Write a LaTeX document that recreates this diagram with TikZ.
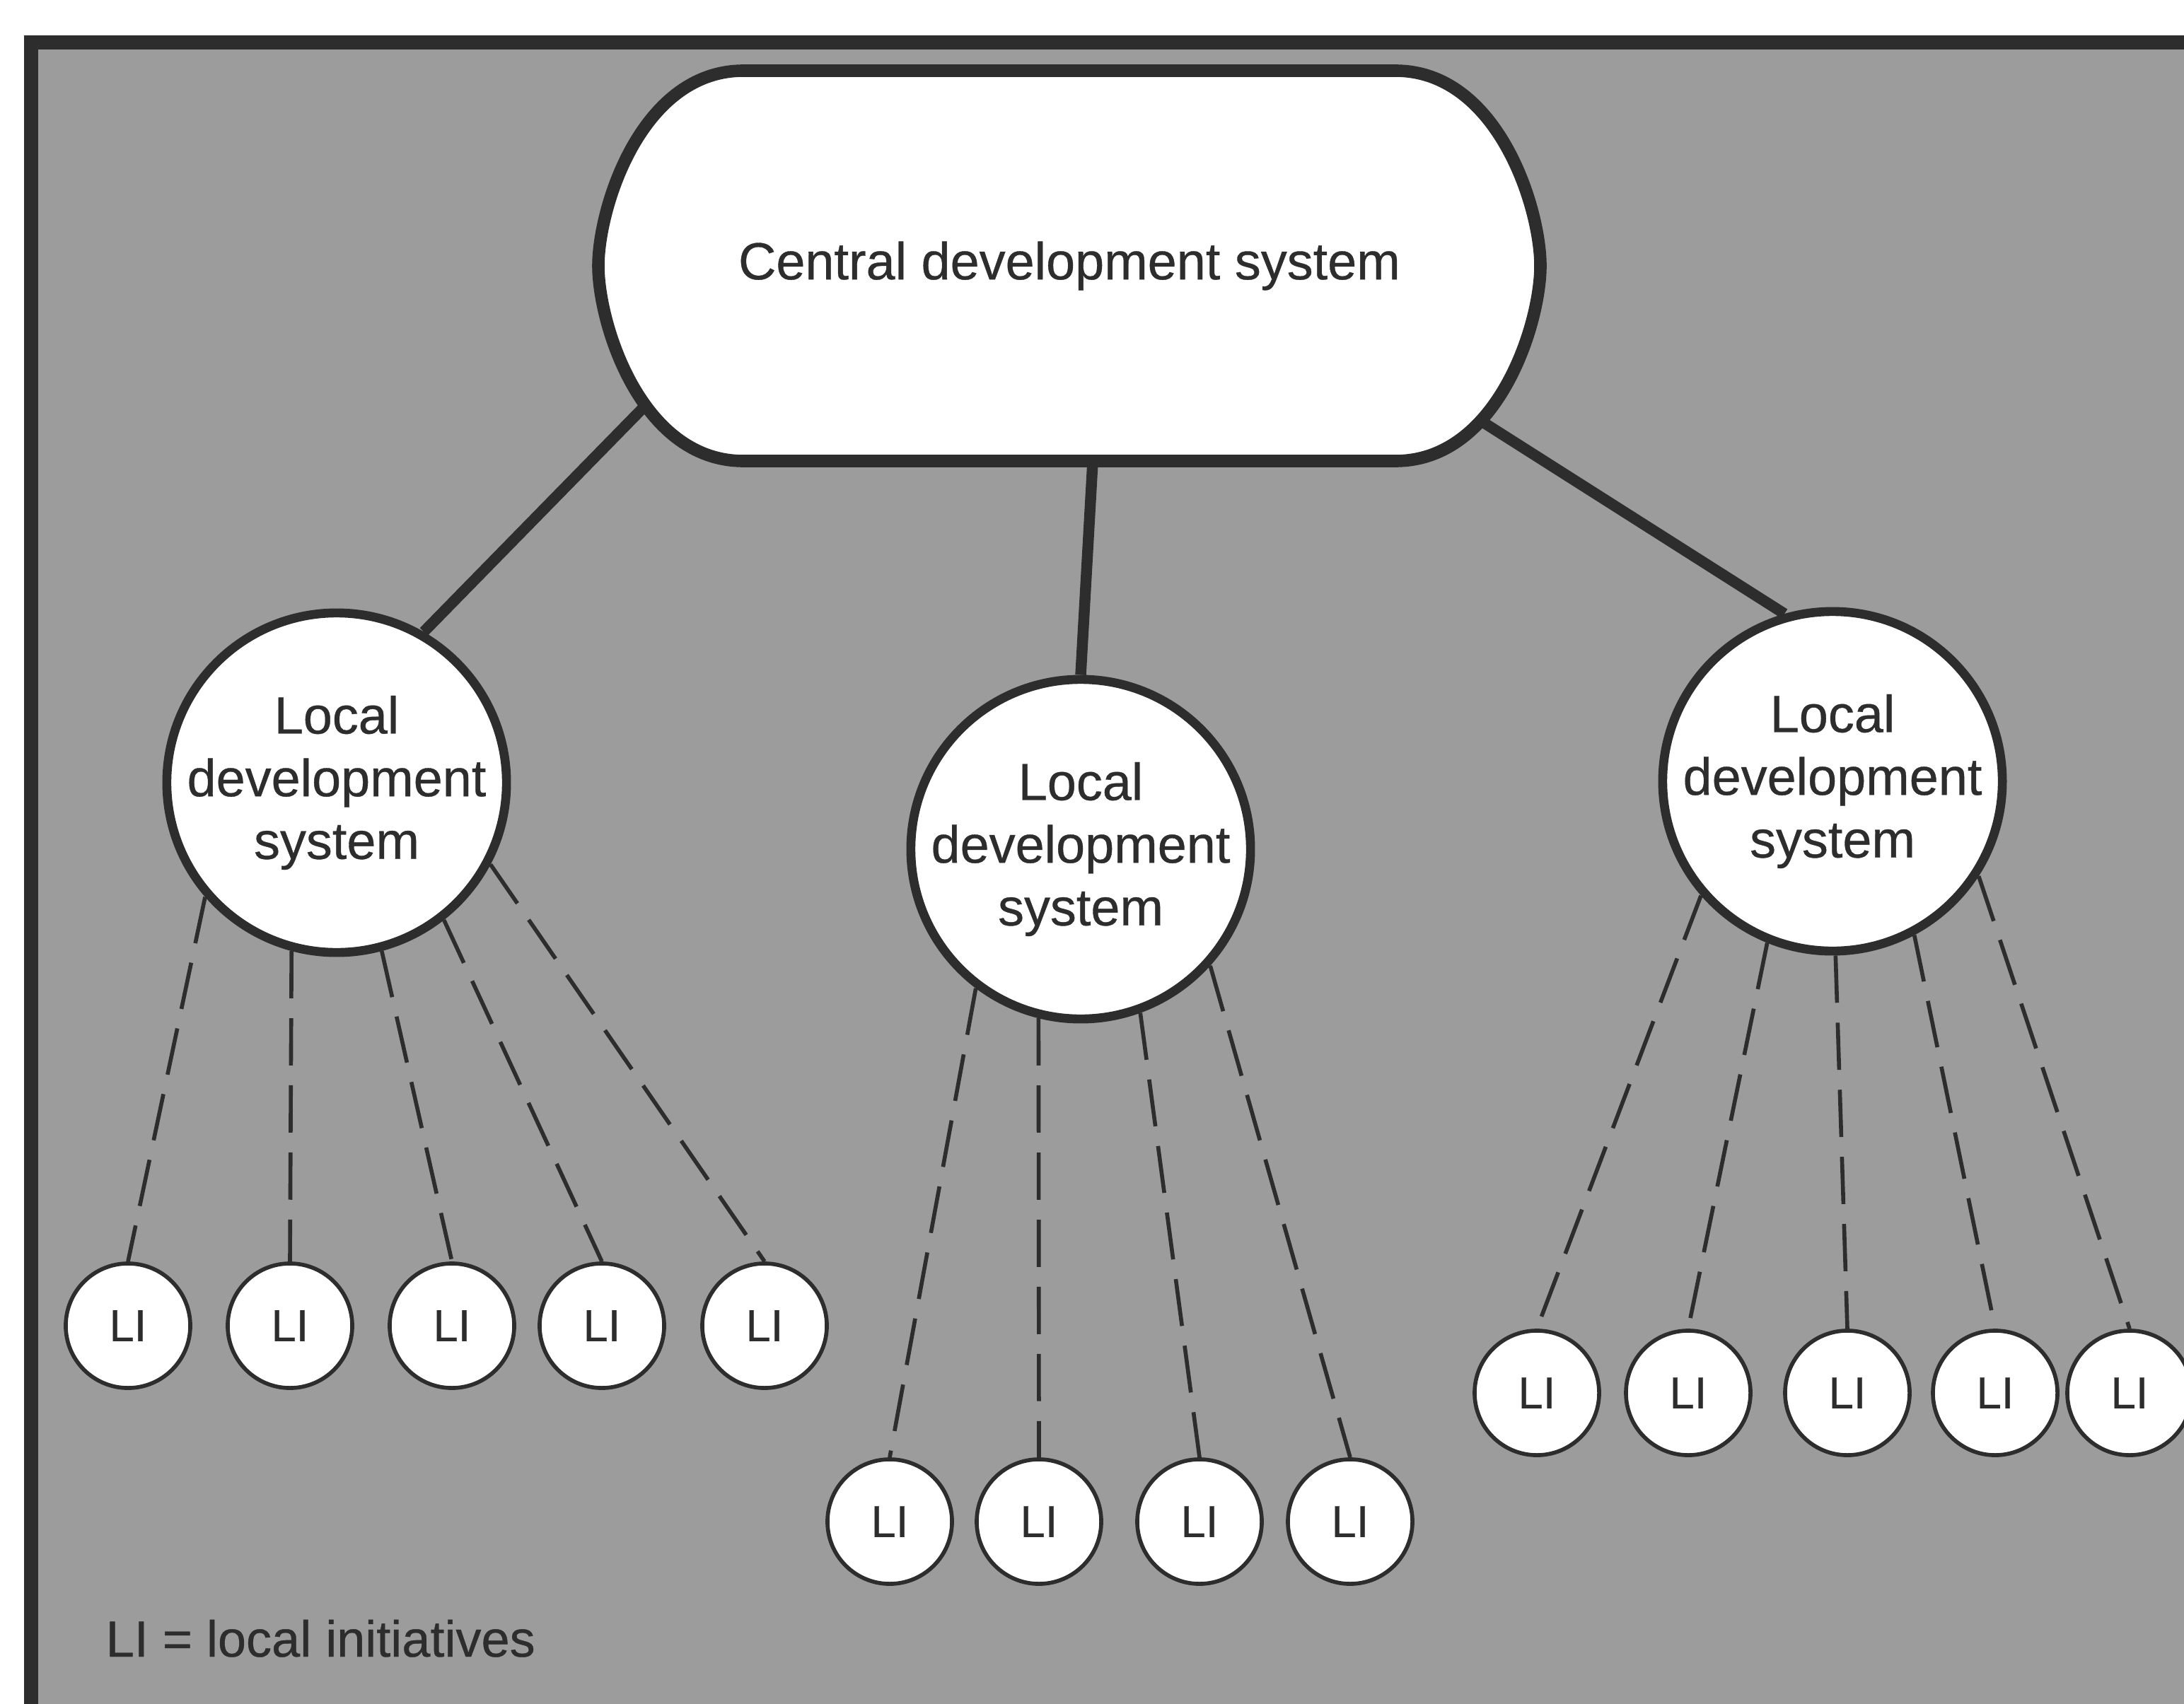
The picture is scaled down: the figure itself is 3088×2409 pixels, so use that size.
\documentclass[tikz,border=0pt]{standalone}
\usepackage{fontspec}
\setmainfont{Liberation Sans}[FakeBold=0.5]
\pgfdeclarelayer{bg}
\pgfdeclarelayer{edges}
\pgfsetlayers{bg,edges,main}
\definecolor{panel}{RGB}{156,156,156}
\definecolor{ink}{RGB}{45,45,45}
\begin{document}
\begin{tikzpicture}[x=0.01cm, y=-0.01cm,
  hubtext/.style={font=\fontsize{21}{25}\selectfont, text=ink, inner sep=0pt},
  localsys/.style={circle, draw=ink, line width=3.6pt, fill=white, minimum size=4.8cm, inner sep=0pt},
  localtext/.style={align=center, font=\fontsize{21}{25.2}\selectfont, text=ink, inner sep=0pt},
  initiative/.style={circle, draw=ink, line width=1.6pt, fill=white, minimum size=1.76cm, inner sep=0pt, font=\fontsize{18}{20}\selectfont, text=ink},
  trunk/.style={draw=ink, line width=4.4pt},
  branch/.style={draw=ink, line width=1.6pt, dash pattern=on 19pt off 8pt},
  legendtext/.style={font=\fontsize{20.5}{24}\selectfont, text=ink, inner sep=0pt}]

\useasboundingbox (0,0) rectangle (3088,2409);

% grey panel with its frame (open to the right and bottom)
\begin{pgfonlayer}{bg}
  \begin{scope}
    \clip (0,0) rectangle (3088,2409);
    \fill[white] (0,0) rectangle (3088,2409);
    \fill[panel] (44,60) rectangle (3200,2500);
    \draw[ink, line width=5.7pt, line join=miter] (44,2500) -- (44,60) -- (3200,60);
  \end{scope}
\end{pgfonlayer}

% central development system: flat top and bottom, rounded squarish ends
\coordinate (hub) at (1512,376);
\filldraw[fill=white, draw=ink, line width=5pt]
  ([shift={(-461,-276)}]hub) -- ([shift={(461,-276)}]hub)
  .. controls ([shift={(605,-276)}]hub) and ([shift={(666,-83)}]hub) .. ([shift={(666,0)}]hub)
  .. controls ([shift={(666,83)}]hub) and ([shift={(605,276)}]hub) .. ([shift={(461,276)}]hub)
  -- ([shift={(-461,276)}]hub)
  .. controls ([shift={(-605,276)}]hub) and ([shift={(-666,83)}]hub) .. ([shift={(-666,0)}]hub)
  .. controls ([shift={(-666,-83)}]hub) and ([shift={(-605,-276)}]hub) .. ([shift={(-461,-276)}]hub)
  -- cycle;
\node[hubtext] (central) at (hub) {Central development system};

% attachment points of the three trunks, tucked under the central shape
\coordinate (cL) at (960,525);
\coordinate (cM) at (1548,600);
\coordinate (cR) at (2040,561);

% local development systems
\node[localsys] (L1) at (476,1107) {};
\node[localtext] (L1t) at (L1) {Local\\development\\system};
\node[localsys] (L2) at (1528,1201) {};
\node[localtext] (L2t) at (L2) {Local\\development\\system};
\node[localsys] (L3) at (2591,1105) {};
\node[localtext] (L3t) at (L3) {Local\\development\\system};

% local initiatives
\foreach \x [count=\i] in {181,410,639,851,1081}
  \node[initiative] (a\i) at (\x,1875) {LI};
\foreach \x [count=\i] in {1258,1469,1696,1909}
  \node[initiative] (b\i) at (\x,2152) {LI};
\foreach \x [count=\i] in {2173,2387,2612,2821,3011}
  \node[initiative] (c\i) at (\x,1970) {LI};

% connectors
\begin{pgfonlayer}{edges}
  \draw[trunk] (cL) -- (L1.60);
  \draw[trunk] (cM) -- (L2.north);
  \draw[trunk] (cR) -- (L3.106);
  \foreach \a [count=\i] in {221,255,285,308,332}
    \draw[branch] (L1.\a) -- (a\i.north);
  \foreach \a [count=\i] in {233,256,290,318}
    \draw[branch] (L2.\a) -- (b\i.north);
  \foreach \a [count=\i] in {221,248,271,298,327}
    \draw[branch] (L3.\a) -- (c\i.north);
\end{pgfonlayer}

% legend
\node[legendtext, anchor=base west] (legend) at (149,2343) {LI = local initiatives};
\end{tikzpicture}
\end{document}
